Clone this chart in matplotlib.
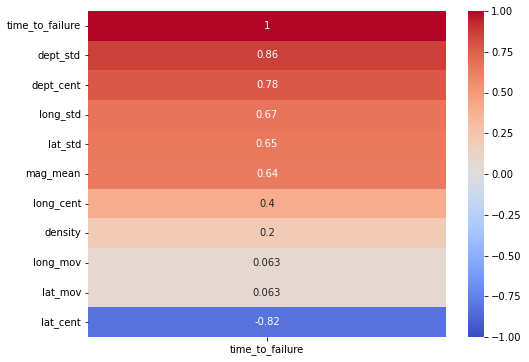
import numpy as np
import pandas as pd
import seaborn as sns
import matplotlib
matplotlib.use('Agg')
import matplotlib.pyplot as plt

features = ['time_to_failure', 'dept_std', 'dept_cent', 'long_std', 'lat_std',
            'mag_mean', 'long_cent', 'density', 'long_mov', 'lat_mov', 'lat_cent']
corr_values = [1.0, 0.86, 0.78, 0.67, 0.65, 0.64, 0.40, 0.20, 0.063, 0.063, -0.82]

corr_df = pd.DataFrame({'time_to_failure': corr_values}, index=features)

fig = plt.figure(figsize=(529 / 72, 362 / 72), dpi=72)
ax = fig.add_axes([88 / 529, 1 - 337 / 362, (446 - 88) / 529, (337 - 11) / 362])
cax = fig.add_axes([468 / 529, 1 - 337 / 362, (484 - 468) / 529, (337 - 11) / 362])

sns.heatmap(corr_df, vmin=-1, vmax=1, cmap='coolwarm', annot=True,
            ax=ax, cbar_ax=cax)
ax.set_yticklabels(features, rotation=0)

fig.savefig('out.png', dpi=72)
